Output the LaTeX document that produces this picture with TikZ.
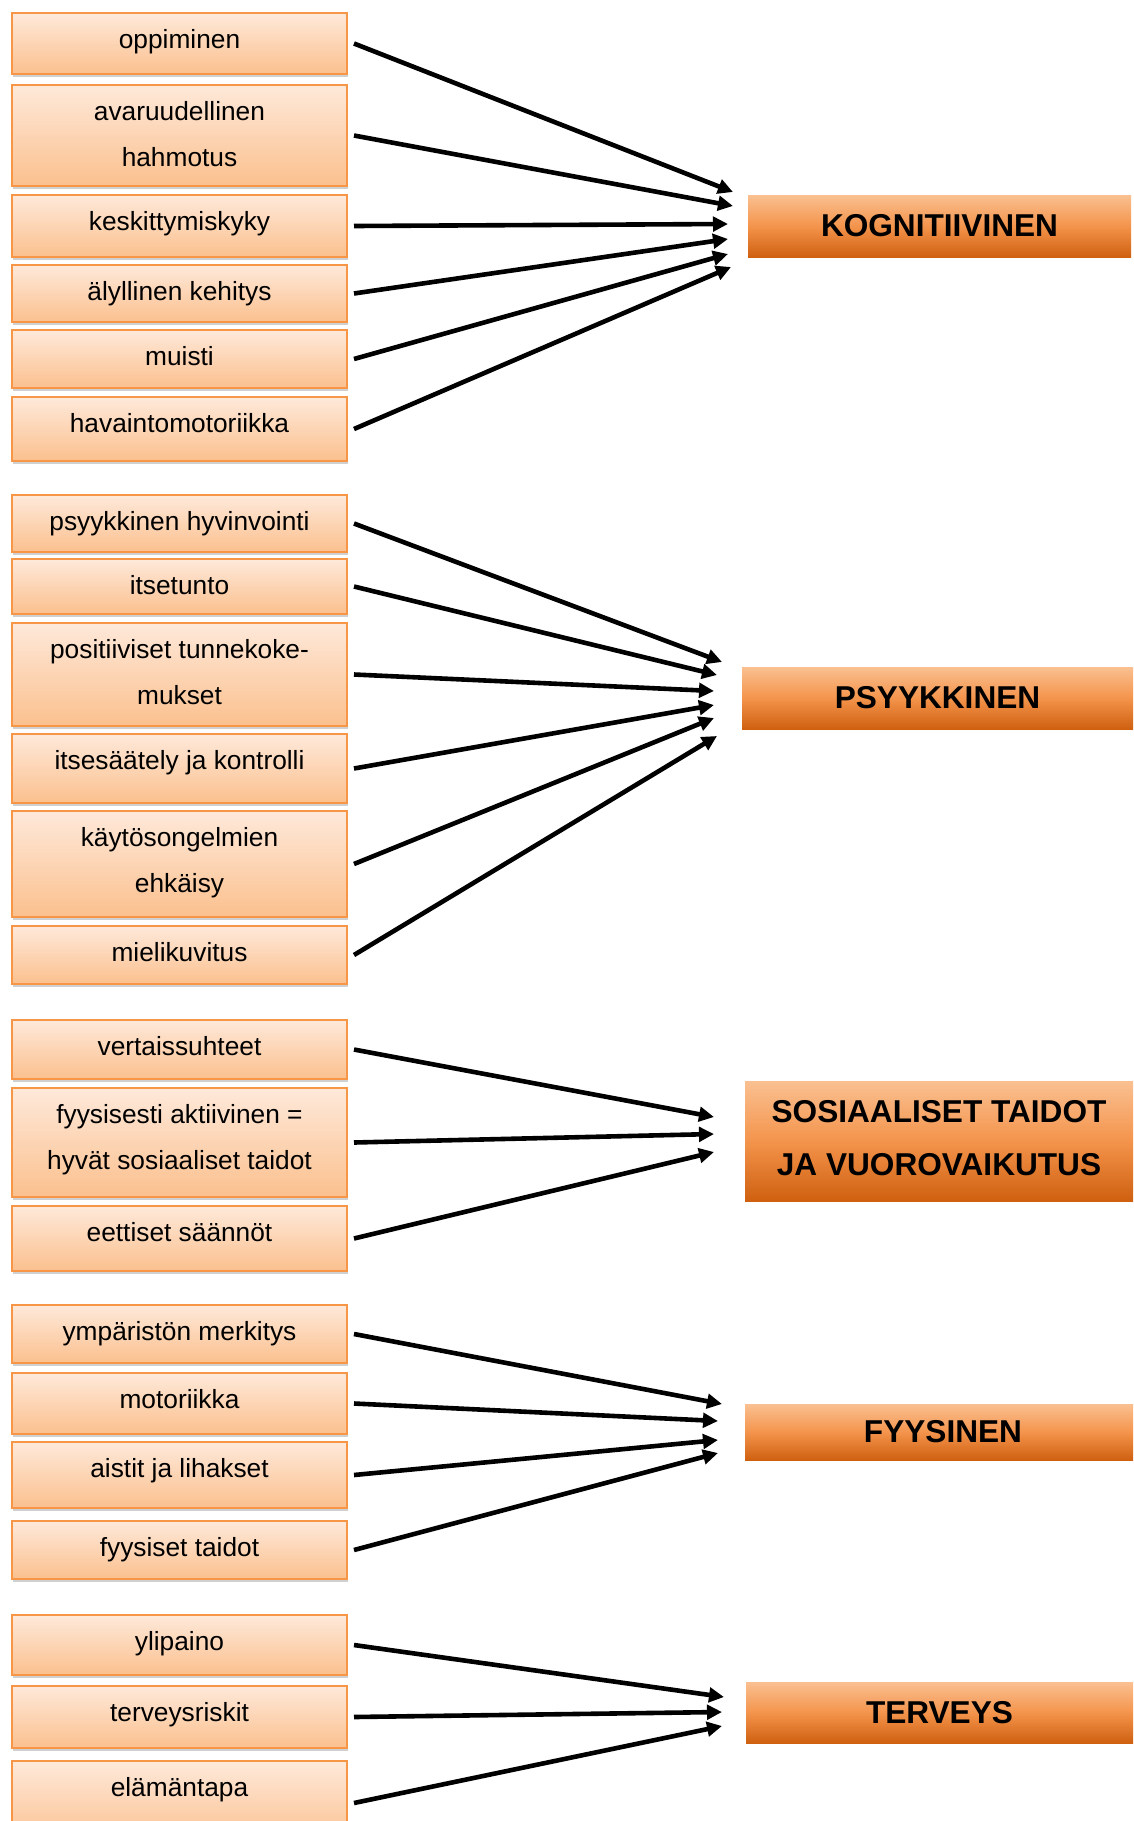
\documentclass[tikz,border=0pt]{standalone}
\usepackage{fontspec}
\setmainfont{Liberation Sans}
\usetikzlibrary{arrows.meta,shadows}
\definecolor{boxtop}{RGB}{254,233,218}
\definecolor{boxbot}{RGB}{251,192,142}
\definecolor{boxline}{RGB}{247,150,70}
\definecolor{headtop}{RGB}{250,192,145}
\definecolor{headmid}{RGB}{244,148,76}
\definecolor{headbot}{RGB}{207,96,16}
\tikzset{
  itembox/.style={draw=boxline, line width=1.3pt, top color=boxtop, bottom color=boxbot,
    minimum width=335pt, inner sep=0pt, outer sep=0pt,
    drop shadow={shadow xshift=0.5pt, shadow yshift=-3pt, opacity=0.3, fill=black!60}},
  itemtext/.style={font=\fontsize{26.3}{30}\selectfont, inner sep=0pt, anchor=base},
  headbox/.style={top color=headtop, bottom color=headbot, middle color=headmid, inner sep=0pt, outer sep=0pt},
  headtext/.style={font=\fontsize{31.6}{36}\selectfont\bfseries, inner sep=0pt},
  conn/.style={line width=4.6pt, -{Triangle[length=15pt,width=14.5pt]}},
}
\newcommand\mkitem[4]{%
  \node[itembox, minimum height={#3-#2}] (#1) at (179.5,{(#2+#3)/2}) {};
  \node[itemtext] (#1a) at ([yshift=-35pt]#1.north) {#4};
}
\newcommand\mksecond[2]{%
  \node[itemtext] (#1b) at ([yshift=-81pt]#1.north) {#2};
}
\newcommand\mkhead[5]{%
  \node[headbox, minimum width={#4-#2}, minimum height={#5-#3}] (#1) at ({(#2+#4)/2},{(#3+#5)/2}) {};
}
\begin{document}
\begin{tikzpicture}[x=1pt,y=-1pt]
\useasboundingbox[fill=white] (0,0) rectangle (1133,1821);
% group 1
\mkitem{i1}{13}{74}{oppiminen}
\mkitem{i2}{85}{186}{avaruudellinen}\mksecond{i2}{hahmotus}
\mkitem{i3}{195}{257}{keskittymiskyky}
\mkitem{i4}{265}{322}{älyllinen kehitys}
\mkitem{i5}{330}{388}{muisti}
\mkitem{i6}{397}{461}{havaintomotoriikka}
% group 2
\mkitem{i7}{495}{552}{psyykkinen hyvinvointi}
\mkitem{i8}{559}{614}{itsetunto}
\mkitem{i9}{623}{726}{positiiviset tunnekoke-}\mksecond{i9}{mukset}
\mkitem{i10}{734}{803}{itsesäätely ja kontrolli}
\mkitem{i11}{811}{917}{käytösongelmien}\mksecond{i11}{ehkäisy}
\mkitem{i12}{926}{984}{mielikuvitus}
% group 3
\mkitem{i13}{1020}{1079}{vertaissuhteet}
\mkitem{i14}{1088}{1197}{fyysisesti aktiivinen =}\mksecond{i14}{hyvät sosiaaliset taidot}
\mkitem{i15}{1206}{1271}{eettiset säännöt}
% group 4
\mkitem{i16}{1305}{1363}{ympäristön merkitys}
\mkitem{i17}{1373}{1434}{motoriikka}
\mkitem{i18}{1442}{1508}{aistit ja lihakset}
\mkitem{i19}{1521}{1579}{fyysiset taidot}
% group 5
\mkitem{i20}{1615}{1675}{ylipaino}
\mkitem{i21}{1686}{1748}{terveysriskit}
\mkitem{i22}{1761}{1845}{elämäntapa}
% headers
\mkhead{h1}{748}{195}{1131}{257}
\node[headtext] (h1t) at (h1.center) {KOGNITIIVINEN};
\mkhead{h2}{742}{667}{1133}{729}
\node[headtext] (h2t) at (h2.center) {PSYYKKINEN};
\mkhead{h3}{745}{1081}{1133}{1201}
\node[headtext, anchor=base] (h3t) at (939,1122) {SOSIAALISET TAIDOT};
\node[headtext, anchor=base] (h3u) at (939,1175) {JA VUOROVAIKUTUS};
\mkhead{h4}{745}{1404}{1133}{1460}
\node[headtext] (h4t) at ([xshift=4pt]h4.center) {FYYSINEN};
\mkhead{h5}{746}{1682}{1133}{1743}
\node[headtext] (h5t) at (h5.center) {TERVEYS};
% arrow tips
\coordinate (t1) at (733,192);
\coordinate (t2) at (733,206);
\coordinate (t3) at (728,224);
\coordinate (t4) at (728,239);
\coordinate (t5) at (728,254);
\coordinate (t6) at (731,267);
\coordinate (t7) at (722,662);
\coordinate (t8) at (717,675);
\coordinate (t9) at (714,691);
\coordinate (t10) at (714,705);
\coordinate (t11) at (714,718);
\coordinate (t12) at (717,736);
\coordinate (t13) at (714,1117);
\coordinate (t14) at (714,1134);
\coordinate (t15) at (714,1152);
\coordinate (t16) at (722,1404);
\coordinate (t17) at (718,1421);
\coordinate (t18) at (718,1440);
\coordinate (t19) at (718,1453);
\coordinate (t20) at (724,1697);
\coordinate (t21) at (722,1712);
\coordinate (t22) at (722,1726);
\foreach \k in {1,...,22}{
  \draw[conn] ([xshift=7pt]i\k.east) -- (t\k);
}
\end{tikzpicture}
\end{document}
